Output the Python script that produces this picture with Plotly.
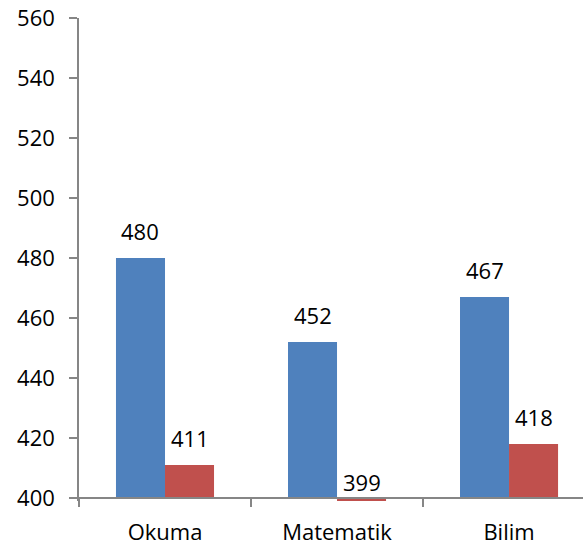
import plotly.graph_objects as go

categories = ["Okuma", "Matematik", "Bilim"]
series_a = [480, 452, 467]
series_b = [411, 399, 418]
y_ticks = [400, 420, 440, 460, 480, 500, 520, 540, 560]

Y_MIN, Y_MAX = 400, 560
Y_FLOOR = min(series_a + series_b + [Y_MIN])  # lowest value so the 399 bar stays visible
BARGAP = 0.43
colors = ["#4F81BD", "#C0504D"]
FONT = "Open Sans"

fig = go.Figure()
for vals, col in zip([series_a, series_b], colors):
    fig.add_trace(go.Bar(
        x=categories,
        y=[v - Y_MIN for v in vals],
        base=Y_MIN,
        marker=dict(color=col, line=dict(width=0)),
        hoverinfo="skip",
    ))

# data labels
half = (1 - BARGAP) / 4
annotations = []
for s, vals in enumerate([series_a, series_b]):
    off = -half if s == 0 else half
    for j, v in enumerate(vals):
        annotations.append(dict(
            x=j + off, y=max(v, Y_MIN), xref="x", yref="y",
            text=str(v), showarrow=False,
            yanchor="middle", xanchor="center",
            yshift=27 if v >= Y_MIN else 16,
            font=dict(family=FONT, size=22, color="#000000"),
        ))

fig.update_layout(
    width=583, height=548,
    margin=dict(l=79, r=0, t=18, b=47),
    paper_bgcolor="white", plot_bgcolor="white",
    barmode="group", bargap=BARGAP, bargroupgap=0,
    showlegend=False,
    font=dict(family=FONT, size=22, color="#000000"),
    annotations=annotations,
    xaxis=dict(
        type="category", range=[-0.5, 2.43],
        anchor="free", position=(Y_MIN - Y_FLOOR) / (Y_MAX - Y_FLOOR),
        showline=True, linecolor="#868686", linewidth=1.5,
        ticks="outside", ticklen=8, tickcolor="#868686", tickwidth=1.5,
        tickson="boundaries", showgrid=False, zeroline=False,
        tickfont=dict(family=FONT, size=22),
        ticklabelstandoff=15, automargin=False,
    ),
    yaxis=dict(
        range=[Y_FLOOR, Y_MAX], tickvals=y_ticks,
        showline=True, linecolor="#868686", linewidth=1.5,
        ticks="outside", ticklen=8, tickcolor="#868686", tickwidth=1.5,
        showgrid=False, zeroline=False,
        tickfont=dict(family=FONT, size=22),
        ticklabelstandoff=10, ticklabeloverflow="allow",
        automargin=False,
    ),
)

fig.write_html(
    "out.html",
    config={"displayModeBar": False},
    post_script="document.body.style.margin='0';document.body.style.overflow='hidden';",
)
